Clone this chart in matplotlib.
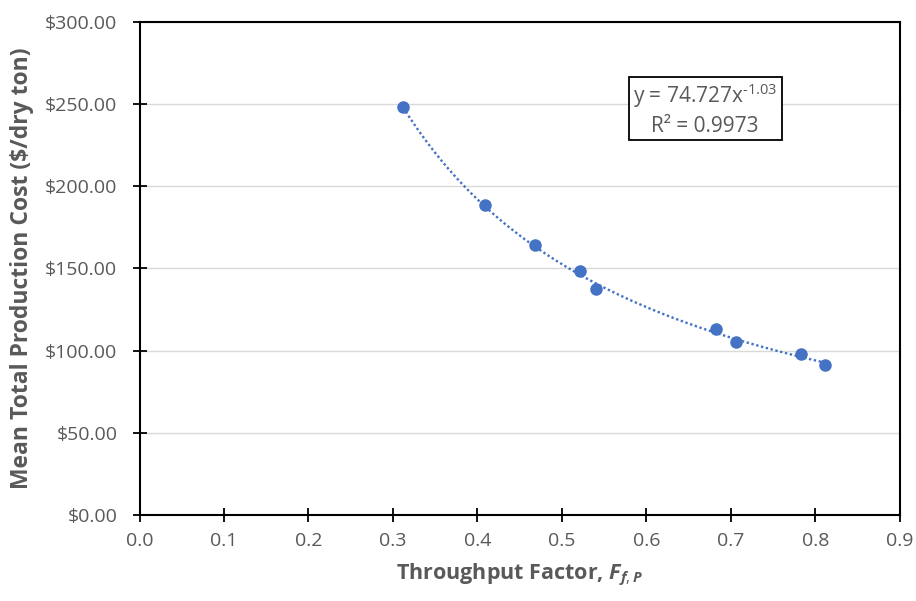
import numpy as np
import matplotlib
matplotlib.use("Agg")
import matplotlib.pyplot as plt
from matplotlib.patches import Rectangle
from matplotlib.ticker import FuncFormatter, MultipleLocator

plt.rcParams['font.family'] = ['Open Sans', 'DejaVu Sans']
plt.rcParams['mathtext.fontset'] = 'custom'
plt.rcParams['mathtext.rm'] = 'Open Sans'
plt.rcParams['mathtext.it'] = 'Open Sans:italic:bold'
plt.rcParams['mathtext.bf'] = 'Open Sans:bold'

# Throughput factor vs. mean total production cost
throughput = [0.312, 0.409, 0.468, 0.521, 0.540, 0.682, 0.706, 0.783, 0.811]
cost = [248.1, 188.6, 164.5, 148.7, 137.3, 113.0, 105.3, 98.2, 91.1]

# Power-law trendline coefficients
coef_a = 74.727
coef_b = -1.03
r_squared = 0.9973

text_gray = '#595959'
point_blue = '#4472C4'

fig = plt.figure(figsize=(9.16, 6.01), dpi=100)
ax = fig.add_axes([0.1523, 0.1431, 0.8302, 0.8203])

ax.set_xlim(0.0, 0.9)
ax.set_ylim(0, 300)
ax.xaxis.set_major_locator(MultipleLocator(0.1))
ax.yaxis.set_major_locator(MultipleLocator(50))
ax.xaxis.set_major_formatter(FuncFormatter(lambda v, p: f"{v:.1f}"))
ax.yaxis.set_major_formatter(FuncFormatter(lambda v, p: f"${v:,.2f}"))

ax.grid(axis='y', color='#d9d9d9', linewidth=1.0, zorder=0)
ax.set_axisbelow(True)

for s in ax.spines.values():
    s.set_color('black')
    s.set_linewidth(1.5)

ax.tick_params(axis='both', direction='inout', length=10, width=1.3,
               color='black', labelsize=14, labelcolor=text_gray)
ax.tick_params(axis='y', pad=11)
ax.tick_params(axis='x', pad=7)

# Fitted trendline across the data range
xs = np.linspace(min(throughput), max(throughput), 200)
ax.plot(xs, coef_a * xs ** coef_b, linestyle=(0, (1, 1.1)), color=point_blue,
        linewidth=1.7, zorder=2)

ax.plot(throughput, cost, linestyle='none', marker='o', markersize=8,
        color=point_blue, zorder=3)

ax.set_xlabel(r"Throughput Factor, $\mathit{F_{f,P}}$", fontsize=15.5,
              fontweight='bold', color=text_gray, labelpad=9)
ax.set_ylabel("Mean Total Production Cost ($/dry ton)", fontsize=16.5,
              fontweight='bold', color=text_gray, labelpad=8)

# Trendline equation box
ax.add_patch(Rectangle((0.6433, 0.7606), 0.2012, 0.1272, transform=ax.transAxes,
                       facecolor='white', edgecolor='black', linewidth=1.3,
                       zorder=4))
ax.text(0.7439, 0.8351, f"y = {coef_a}x" + r"$^{\text{" + f"{coef_b}" + r"}}$",
        transform=ax.transAxes, ha='center', va='baseline', fontsize=15,
        color=text_gray, zorder=5)
ax.text(0.7439, 0.7775, f"R² = {r_squared}", transform=ax.transAxes,
        ha='center', va='baseline', fontsize=15, color=text_gray, zorder=5)

fig.savefig("out.png", dpi=100)
